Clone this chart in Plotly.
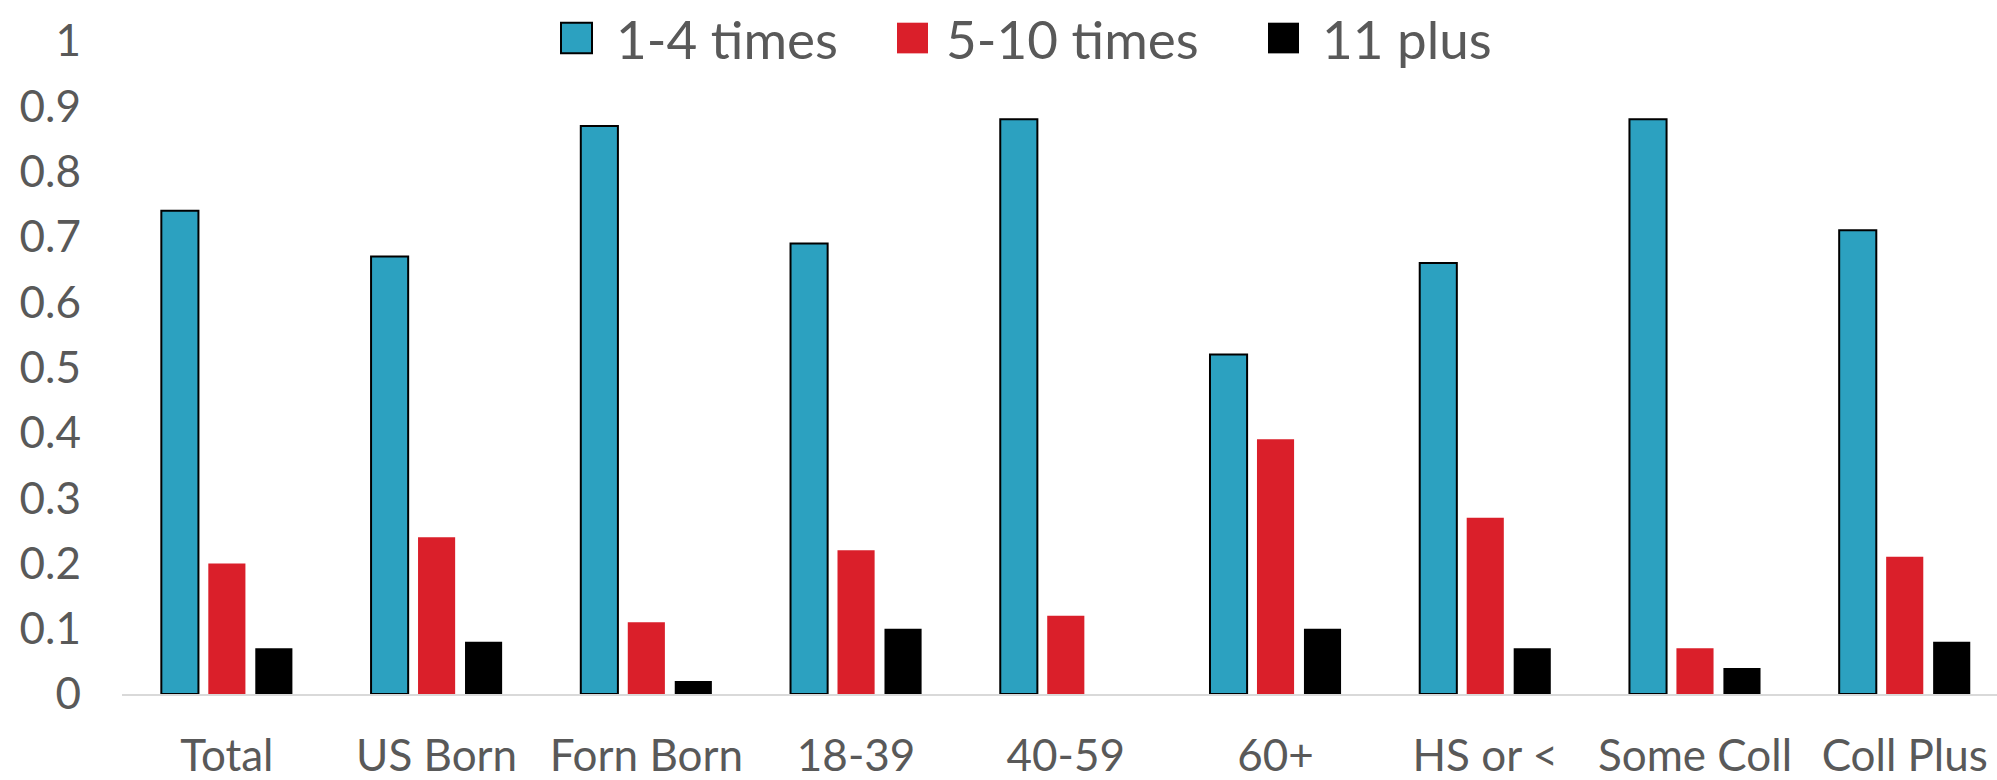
import plotly.graph_objects as go

categories = ["Total", "US Born", "Forn Born", "18-39", "40-59", "60+", "HS or <", "Some Coll", "Coll Plus"]
series_names = ["1-4 times", "5-10 times", "11 plus"]
times_1_4 = [0.74, 0.67, 0.87, 0.69, 0.88, 0.52, 0.66, 0.88, 0.71]
times_5_10 = [0.20, 0.24, 0.11, 0.22, 0.12, 0.39, 0.27, 0.07, 0.21]
times_11_plus = [0.07, 0.08, 0.02, 0.10, 0.00, 0.10, 0.07, 0.04, 0.08]
y_ticks = [0, 0.1, 0.2, 0.3, 0.4, 0.5, 0.6, 0.7, 0.8, 0.9, 1]

colors = ["#2CA1C0", "#DA1F2A", "#000000"]
outline_widths = [2, 0, 0]
series_values = [times_1_4, times_5_10, times_11_plus]

W, H = 1997, 780
L, R, T, B = 122, 0, 41, 79
PW, PH = W - L - R, H - T - B
TEXT = "#595959"
FONT = "Lato"

fig = go.Figure()
for name, vals, col, lw in zip(series_names, series_values, colors, outline_widths):
    fig.add_trace(go.Bar(
        x=categories, y=vals, name=name, showlegend=False,
        marker=dict(color=col, line=dict(color="#000000", width=lw)),
    ))

# legend drawn as layout decorations (pixel positions converted to paper coords)
sw_left = [561, 897, 1268]
txt_left = [614, 944, 1320]
sw_size = 31
leg_cy = 38
shapes, annotations = [], []
for i, name in enumerate(series_names):
    x0 = (sw_left[i] - L) / PW
    x1 = (sw_left[i] + sw_size - L) / PW
    y0 = (H - B - (leg_cy + sw_size / 2)) / PH
    y1 = (H - B - (leg_cy - sw_size / 2)) / PH
    shapes.append(dict(type="rect", xref="paper", yref="paper", x0=x0, x1=x1, y0=y0, y1=y1,
                       fillcolor=colors[i], line=dict(color="#000000", width=outline_widths[i])))
    annotations.append(dict(text=name, xref="paper", yref="paper",
                            x=(txt_left[i] - L) / PW, y=(H - B - leg_cy) / PH,
                            xanchor="left", yanchor="middle", showarrow=False,
                            font=dict(family=FONT, size=53, color=TEXT)))

fig.update_layout(
    width=W, height=H,
    margin=dict(l=L, r=R, t=T, b=B),
    paper_bgcolor="white", plot_bgcolor="white",
    barmode="group", bargap=0.328, bargroupgap=0.21,
    font=dict(family=FONT, color=TEXT),
    shapes=shapes, annotations=annotations,
    xaxis=dict(type="category", range=[-0.5, 8.44], showline=True, linecolor="#D9D9D9",
               linewidth=2, showgrid=False, zeroline=False, ticks="",
               tickfont=dict(family=FONT, size=44, color=TEXT), ticklabelstandoff=22),
    yaxis=dict(range=[0, 1], tickvals=y_ticks, ticktext=[("%g" % v) for v in y_ticks],
               showgrid=False, zeroline=False, showline=False, ticks="",
               tickfont=dict(family=FONT, size=44, color=TEXT), ticklabelstandoff=40),
)

fig.write_html("out.html")
